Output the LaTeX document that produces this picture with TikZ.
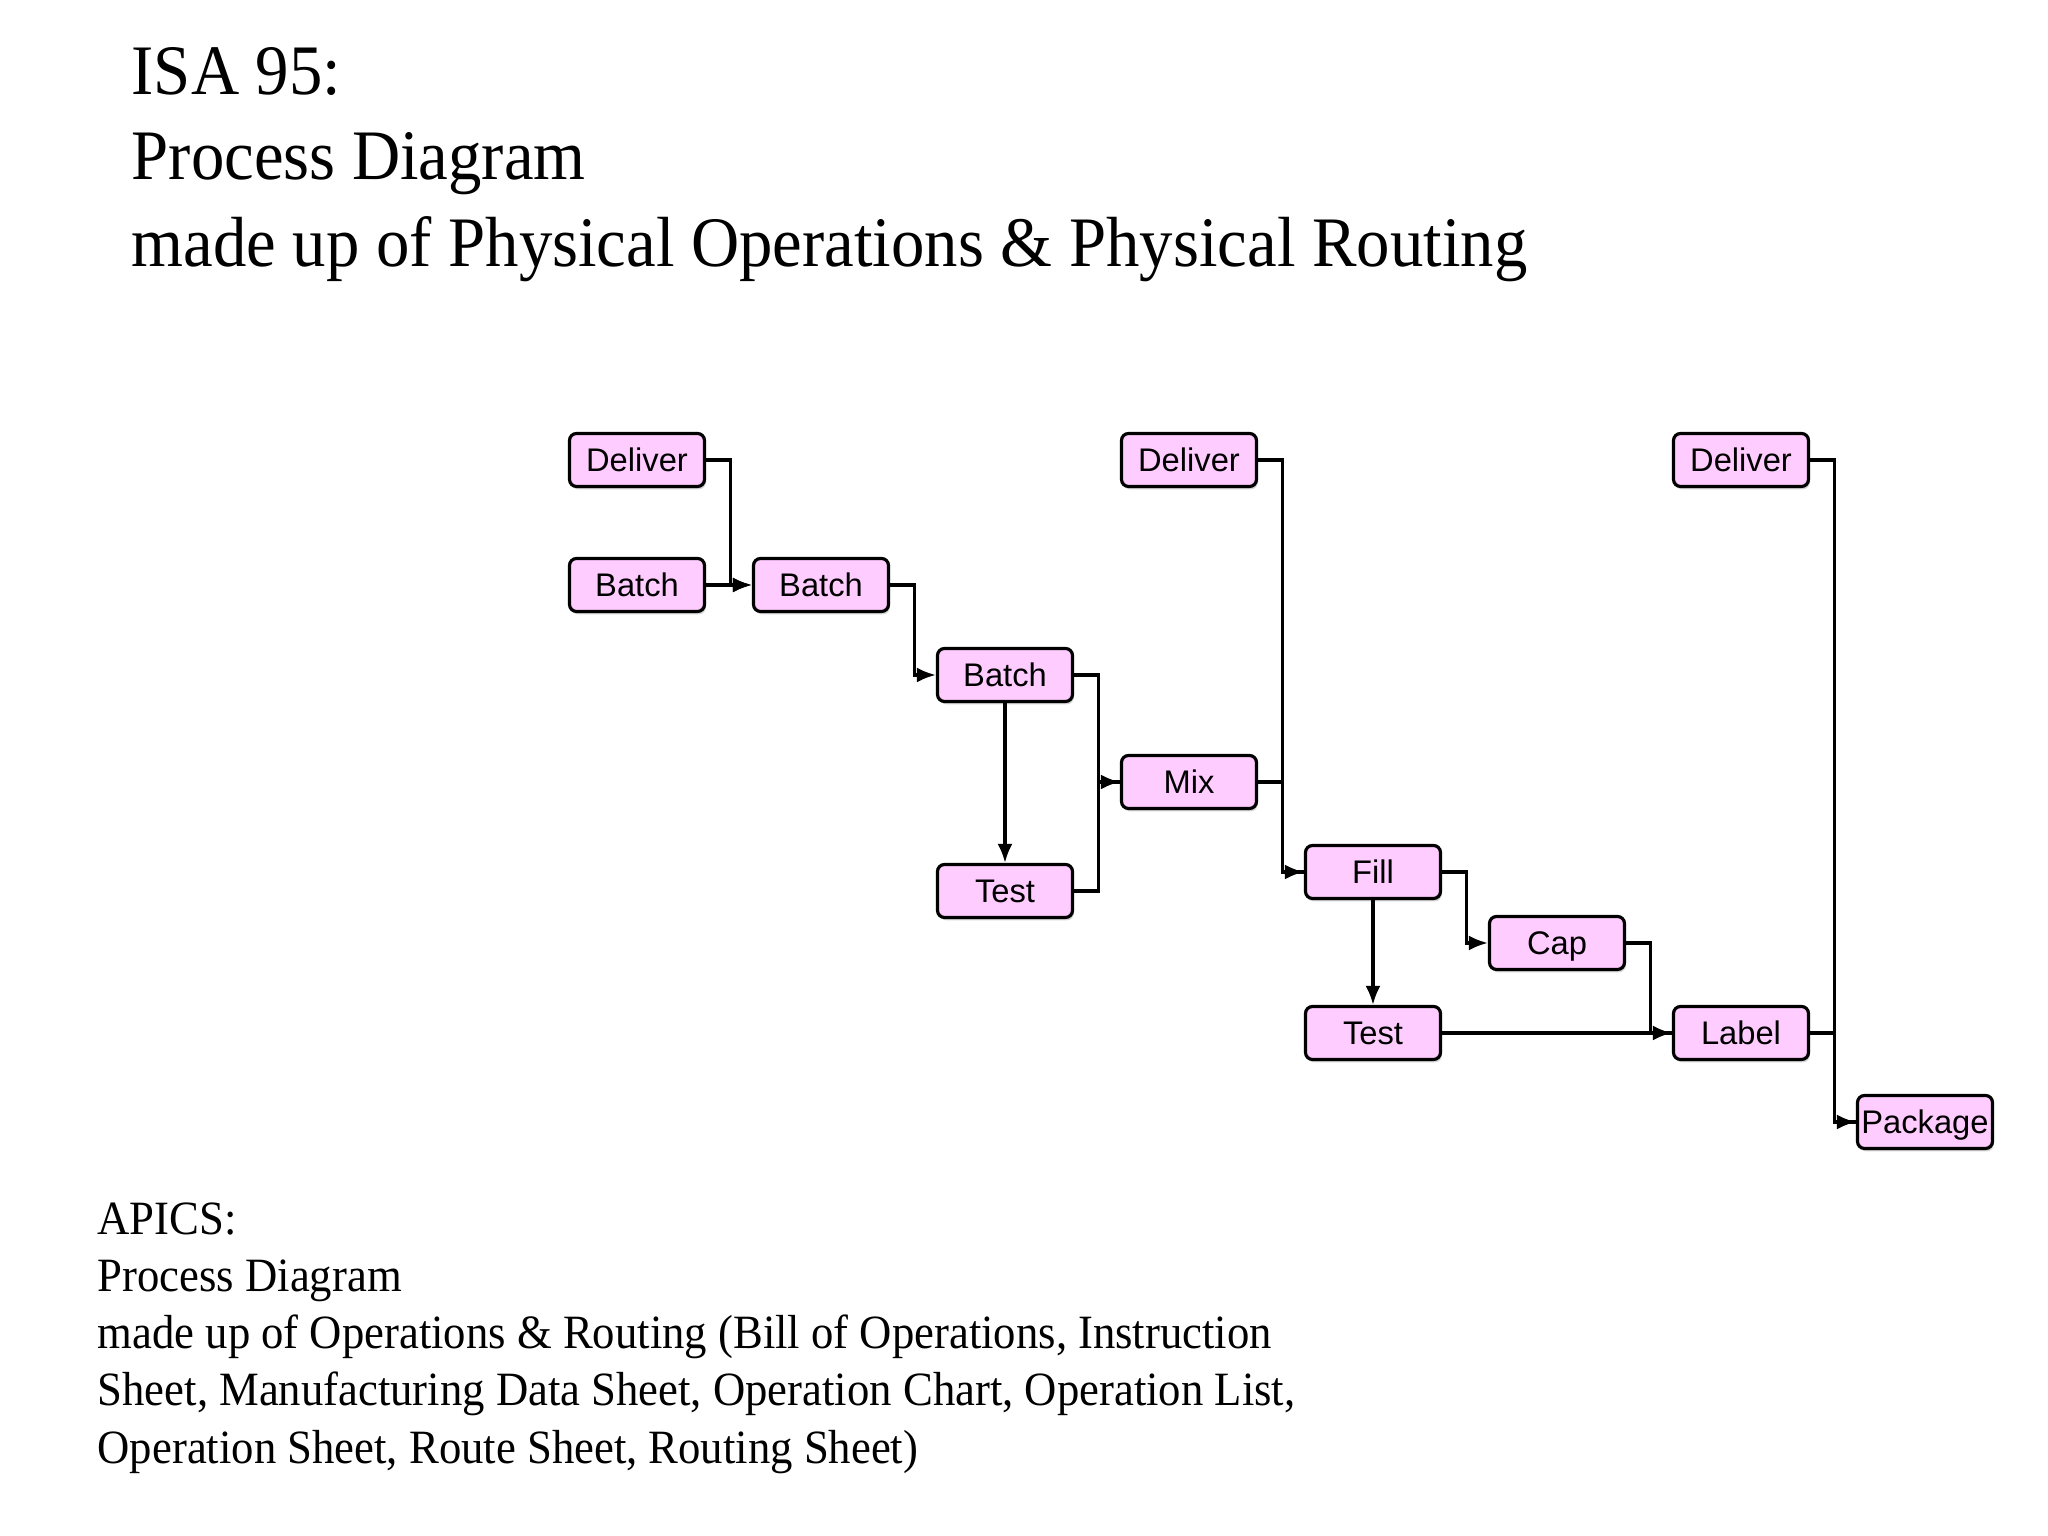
\documentclass[tikz,border=0pt]{standalone}
\usepackage{fontspec}
\setmainfont{Liberation Serif}
\newfontfamily\opfont{Liberation Sans}
\newfontfamily\headfont[FakeStretch=0.94]{Liberation Serif}
\newfontfamily\notefont[FakeStretch=0.935]{Liberation Serif}
\usetikzlibrary{arrows.meta,shadows}
\definecolor{oppink}{RGB}{255,204,255}

\tikzset{
	op/.style={draw, fill=oppink, rounded corners=2pt, line width=0.9pt,
		minimum width=1.35cm, minimum height=0.53cm, inner sep=0pt,
		text height=6.7pt, text depth=0pt,
		drop shadow={opacity=0.35, shadow xshift=0.4pt, shadow yshift=-0.8pt},
		font=\opfont\fontsize{9.3}{11}\selectfont},
	flow/.style={line width=0.9pt, -{Latex[length=1.9mm, width=1.5mm]}},
	link/.style={line width=0.9pt},
	bigtext/.style={anchor=base west, inner sep=0pt, font=\headfont\fontsize{20.2}{24}\selectfont},
	smalltext/.style={anchor=base west, inner sep=0pt, font=\notefont\fontsize{13.6}{16}\selectfont},
}

\begin{document}
\begin{tikzpicture}
	\useasboundingbox (0,0) rectangle (20.48,15.36);
	% headings
	\node[bigtext] (isa) at (1.31,14.41) {ISA 95:};
	\node[bigtext] (isa2) at (1.31,13.56) {Process Diagram};
	\node[bigtext] (isa3) at (1.31,12.69) {made up of Physical Operations \& Physical Routing};
	% operations
	\node[op] (dlv1) at (6.37,10.76) {Deliver};
	\node[op] (bat1) at (6.37,9.51) {Batch};
	\node[op] (bat2) at (8.21,9.51) {Batch};
	\node[op] (bat3) at (10.05,8.61) {Batch};
	\node[op] (tst1) at (10.05,6.45) {Test};
	\node[op] (dlv2) at (11.89,10.76) {Deliver};
	\node[op] (mix) at (11.89,7.54) {Mix};
	\node[op] (fill) at (13.73,6.64) {Fill};
	\node[op] (tst2) at (13.73,5.03) {Test};
	\node[op] (cap) at (15.57,5.93) {Cap};
	\node[op] (dlv3) at (17.41,10.76) {Deliver};
	\node[op] (lbl) at (17.41,5.03) {Label};
	\node[op] (pkg) at (19.25,4.14) {Package};
	% routing
	\draw[flow] (dlv1.east) -- ++(0.24,0) |- (bat2.west);
	\draw[flow] (bat1) -- (bat2);
	\draw[flow] (bat2.east) -- ++(0.24,0) |- (bat3.west);
	\draw[flow] (bat3) -- (tst1);
	\draw[flow] (bat3.east) -- ++(0.24,0) |- (mix.west);
	\draw[link] (tst1.east) -- ++(0.24,0) |- (mix.west);
	\draw[flow] (dlv2.east) -- ++(0.24,0) |- (fill.west);
	\draw[link] (mix.east) -- ++(0.24,0) |- (fill.west);
	\draw[flow] (fill) -- (tst2);
	\draw[flow] (fill.east) -- ++(0.24,0) |- (cap.west);
	\draw[flow] (tst2) -- (lbl);
	\draw[link] (cap.east) -- ++(0.24,0) |- (lbl.west);
	\draw[flow] (dlv3.east) -- ++(0.24,0) |- (pkg.west);
	\draw[link] (lbl.east) -- ++(0.24,0) |- (pkg.west);
	% APICS wording
	\node[smalltext] (ap1) at (0.97,3.01) {APICS:};
	\node[smalltext] (ap2) at (0.97,2.44) {Process Diagram};
	\node[smalltext] (ap3) at (0.97,1.87) {made up of Operations \& Routing (Bill of Operations, Instruction};
	\node[smalltext] (ap4) at (0.97,1.30) {Sheet, Manufacturing Data Sheet, Operation Chart, Operation List,};
	\node[smalltext] (ap5) at (0.97,0.72) {Operation Sheet, Route Sheet, Routing Sheet)};
\end{tikzpicture}
\end{document}
